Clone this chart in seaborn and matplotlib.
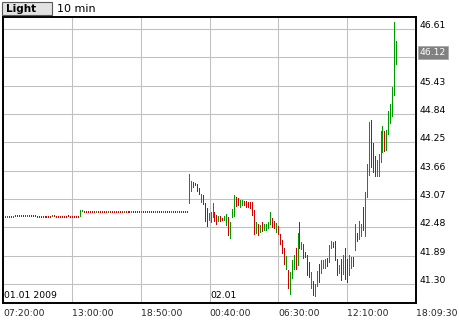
import numpy as np
import pandas as pd
import matplotlib
matplotlib.use("Agg")
import matplotlib.pyplot as plt
import matplotlib.dates as mdates
from matplotlib.transforms import blended_transform_factory, ScaledTranslation
from matplotlib.patches import Rectangle
import seaborn as sns

# ---------------- data ----------------
button_label = "Light"
interval_label = "10 min"
start_time = "2009-01-01 07:20"
end_time = "2009-01-02 18:09:30"
x_tick_labels = ["07:20:00", "13:00:00", "18:50:00", "00:40:00",
                 "06:30:00", "12:10:00", "18:09:30"]
day_labels = ["01.01 2009", "02.01"]
y_ticks = [41.30, 41.89, 42.48, 43.07, 43.66, 44.25, 44.84, 45.43, 46.02, 46.61]
last_price = 46.12

high = [
    42.72, 42.72, 42.72, 42.72, 42.72, 42.72, 42.73, 42.73, 42.73, 42.73,
    42.73, 42.73, 42.73, 42.73, 42.73, 42.73, 42.73, 42.72, 42.72, 42.72,
    42.72, 42.72, 42.72, 42.72, 42.72, 42.73, 42.73, 42.72, 42.72, 42.72,
    42.72, 42.72, 42.72, 42.73, 42.72, 42.72, 42.72, 42.72, 42.72, 42.85,
    42.84, 42.83, 42.83, 42.83, 42.83, 42.83, 42.83, 42.83, 42.83, 42.83,
    42.83, 42.83, 42.83, 42.82, 42.82, 42.82, 42.82, 42.82, 42.83, 42.83,
    42.83, 42.83, 42.83, 42.83, 42.83, 42.83, 42.83, 42.83, 42.83, 42.83,
    42.83, 42.82, 42.82, 42.82, 42.82, 42.82, 42.83, 42.83, 42.83, 42.83,
    42.83, 42.83, 42.83, 42.82, 42.82, 42.82, 42.82, 42.82, 42.82, 42.82,
    42.82, 42.83, 42.83, 42.83, 43.59, 43.45, 43.42, 43.40, 43.38, 43.31,
    43.18, 43.15, 42.98, 42.88, 42.77, 42.79, 42.99, 42.79, 42.74, 42.72,
    42.72, 42.68, 42.72, 42.76, 42.70, 42.60, 42.86, 43.15, 43.12, 43.09,
    43.05, 43.04, 43.03, 43.03, 43.01, 43.00, 43.00, 42.84, 42.59, 42.56,
    42.53, 42.60, 42.55, 42.54, 42.59, 42.80, 42.68, 42.62, 42.57, 42.51,
    42.34, 42.22, 42.04, 41.89, 41.59, 41.54, 41.80, 41.90, 42.06, 42.36,
    42.60, 42.18, 42.13, 41.97, 41.90, 41.76, 41.54, 41.36, 41.29, 41.57,
    41.72, 41.79, 41.80, 41.82, 41.85, 42.11, 42.20, 42.18, 42.20, 41.82,
    41.70, 41.82, 41.90, 42.06, 41.82, 41.90, 41.86, 41.87, 42.54, 42.36,
    42.61, 42.56, 42.90, 43.22, 43.80, 44.68, 44.71, 44.23, 43.97, 43.88,
    44.01, 44.49, 44.59, 44.49, 44.51, 44.90, 45.06, 45.41, 46.76, 46.36,
]

low = [
    42.70, 42.70, 42.70, 42.70, 42.70, 42.70, 42.71, 42.71, 42.71, 42.71,
    42.71, 42.71, 42.71, 42.71, 42.71, 42.71, 42.71, 42.70, 42.70, 42.70,
    42.70, 42.70, 42.70, 42.70, 42.70, 42.71, 42.71, 42.70, 42.70, 42.70,
    42.70, 42.70, 42.70, 42.71, 42.70, 42.70, 42.70, 42.70, 42.70, 42.71,
    42.82, 42.81, 42.81, 42.81, 42.81, 42.81, 42.81, 42.81, 42.81, 42.81,
    42.81, 42.81, 42.81, 42.80, 42.80, 42.80, 42.80, 42.80, 42.81, 42.81,
    42.81, 42.81, 42.81, 42.81, 42.81, 42.81, 42.81, 42.81, 42.81, 42.81,
    42.81, 42.80, 42.80, 42.80, 42.80, 42.80, 42.81, 42.81, 42.81, 42.81,
    42.81, 42.81, 42.81, 42.80, 42.80, 42.80, 42.80, 42.80, 42.80, 42.80,
    42.80, 42.81, 42.81, 42.81, 42.98, 43.24, 43.33, 43.36, 43.24, 43.17,
    43.01, 42.96, 42.61, 42.51, 42.63, 42.60, 42.70, 42.62, 42.56, 42.61,
    42.61, 42.63, 42.63, 42.53, 42.32, 42.26, 42.70, 42.72, 42.93, 42.95,
    42.90, 42.95, 42.95, 42.91, 42.91, 42.88, 42.74, 42.34, 42.36, 42.32,
    42.38, 42.40, 42.43, 42.43, 42.46, 42.55, 42.48, 42.46, 42.39, 42.34,
    42.13, 41.94, 41.72, 41.61, 41.21, 41.09, 41.42, 41.61, 41.61, 41.70,
    42.04, 42.03, 41.84, 41.86, 41.49, 41.45, 41.21, 41.07, 41.04, 41.26,
    41.35, 41.52, 41.63, 41.64, 41.68, 41.76, 42.04, 42.08, 41.80, 41.49,
    41.52, 41.38, 41.50, 41.40, 41.35, 41.49, 41.63, 41.68, 42.01, 42.20,
    42.24, 42.29, 42.43, 42.29, 43.12, 43.57, 43.74, 43.64, 43.54, 43.54,
    43.54, 43.85, 44.04, 44.07, 44.09, 44.42, 44.65, 44.81, 45.24, 45.89,
]

# u = up bar (green), d = down bar (red)
direction = (
    "duuddudddu" "duuddddddd" "dddddudddd" "dddddddddu"
    "uddddddudd" "dddudddddd" "dudddudddd" "uddddddudd"
    "duddduddud" "dddduudddd" "uddduuuddu" "dduuduuudd"
    "uuddddddud" "uduuuuddud" "ddduduuudu" "dudddduduu"
    "duuuduuddd" "ududduudud" "uuduuudddu" "uuuduuuuuu"
)

# ---------------- styling ----------------
GREEN = "#009a00"
RED = "#d00000"
GRID = "#c0c0c0"
W, H = 460, 320

sns.set_style("white")
plt.rcParams["font.family"] = ["DejaVu Sans"]

fig = plt.figure(figsize=(W / 100, H / 100), dpi=100)
fig.patch.set_facecolor("white")
ax = fig.add_axes([3 / W, 1 - 303 / H, 413 / W, 286 / H])

times = pd.date_range(start_time, periods=len(high), freq="10min")
n = len(high)
df = pd.DataFrame({
    "time": np.repeat(times, 2),
    "price": np.column_stack([high, low]).ravel(),
    "bar": np.repeat(np.arange(n), 2),
    "dir": np.repeat(list(direction), 2),
})

sns.lineplot(data=df, x="time", y="price", units="bar", estimator=None,
             hue="dir", palette={"u": GREEN, "d": RED}, legend=False,
             sort=False, linewidth=0.7, ax=ax, antialiased=False,
             solid_capstyle="butt")

xmin = mdates.date2num(pd.Timestamp(start_time))
xmax = mdates.date2num(pd.Timestamp(end_time))
ax.set_xlim(xmin, xmax)
ax.set_ylim(40.904, 46.8625)

xticks = np.linspace(xmin, xmax, len(x_tick_labels))
ax.set_xticks(xticks)
ax.set_xticklabels(x_tick_labels, ha="left", fontsize=6.7)
ax.set_yticks(y_ticks)
ax.set_yticklabels([])
ax.tick_params(axis="both", length=0)
ax.tick_params(axis="x", pad=4.5)
ax.set_xlabel("")
ax.set_ylabel("")
ax.grid(True, color=GRID, linewidth=0.75)
ax.set_axisbelow(True)
for s in ax.spines.values():
    s.set_visible(True)
    s.set_color("black")
    s.set_linewidth(1.4)

# right-hand price labels
btrans = blended_transform_factory(ax.transAxes, ax.transData)
off = ScaledTranslation(4 / 100, 1.0 / 100, fig.dpi_scale_trans)
for v in y_ticks:
    if abs(v - 46.02) < 1e-6:
        continue
    ax.text(1.0, v, f"{v:.2f}", transform=btrans + off, ha="left",
            va="baseline", fontsize=6.7, color="black", clip_on=False)
off2 = ScaledTranslation(4 / 100, 0, fig.dpi_scale_trans)
ax.text(1.0, last_price, f"{last_price:.2f}", transform=btrans + off2,
        ha="left", va="center", fontsize=6.7, color="white", clip_on=False,
        bbox=dict(boxstyle="square,pad=0.18", fc="#808080", ec="#a8a8a8", lw=0.6))

# day labels inside the plot
doff = ScaledTranslation(1.5 / 100, 4.5 / 100, fig.dpi_scale_trans)
dtrans = blended_transform_factory(ax.transData, ax.transAxes)
ax.text(xticks[0], 0, day_labels[0], transform=dtrans + doff, ha="left",
        va="baseline", fontsize=6.7, color="black")
ax.text(xticks[3], 0, day_labels[1], transform=dtrans + ScaledTranslation(0.5 / 100, 4.5 / 100, fig.dpi_scale_trans),
        ha="left", va="baseline", fontsize=6.7, color="black")

# header: button and interval
fig.patches.append(Rectangle((2 / W, 1 - 15 / H), 50 / W, 13 / H,
                             transform=fig.transFigure, facecolor="#e2e2e2",
                             edgecolor="#5a5a5a", linewidth=0.8))
fig.text(6 / W, 1 - 12.5 / H, button_label, fontsize=7.5, fontweight="bold",
         ha="left", va="baseline", color="black")
fig.text(57 / W, 1 - 12.5 / H, interval_label, fontsize=8, ha="left",
         va="baseline", color="black")

fig.savefig("out.png", dpi=100, facecolor="white")
